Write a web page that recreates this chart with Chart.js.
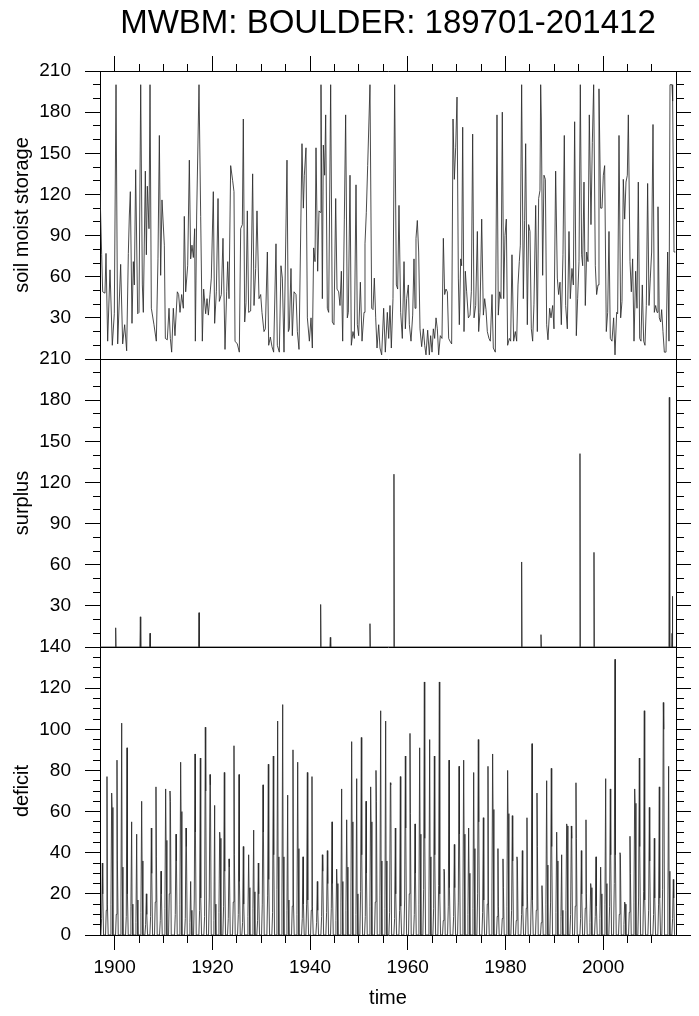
<!DOCTYPE html>
<html>
<head>
<meta charset="utf-8">
<script src="https://cdn.jsdelivr.net/npm/chart.js@4.4.1/dist/chart.umd.min.js"></script>
<style>
  html, body { margin: 0; padding: 0; background: #fff; }
  #wrap { position: relative; width: 699px; height: 1016px; }
  #wrap canvas { position: absolute; left: 0; top: 0; }
</style>
</head>
<body>
<div id="wrap">
  <canvas id="soil" width="699" height="1016"></canvas>
  <canvas id="surplus" width="699" height="1016"></canvas>
  <canvas id="deficit" width="699" height="1016"></canvas>
</div>
<script>
const titleText = "MWBM: BOULDER: 189701-201412";
const timeMin = 1897;
const timeMax = 2014.917;

const yearTicks = [1900, 1905, 1910, 1915, 1920, 1925, 1930, 1935, 1940, 1945, 1950, 1955,
  1960, 1965, 1970, 1975, 1980, 1985, 1990, 1995, 2000, 2005, 2010];
const yearLabels = [1900, 1920, 1940, 1960, 1980, 2000];
const storageTicks = [0, 10, 20, 30, 40, 50, 60, 70, 80, 90, 100, 110, 120, 130, 140, 150,
  160, 170, 180, 190, 200, 210];
const deficitTicks = [0, 5, 10, 15, 20, 25, 30, 35, 40, 45, 50, 55, 60, 65, 70, 75, 80, 85,
  90, 95, 100, 105, 110, 115, 120, 125, 130, 135, 140];

// soil moisture storage, peaks and troughs
const soilTime = [
  1897.00, 1897.34, 1897.55, 1898.02, 1898.23, 1898.57, 1899.05, 1899.52, 1899.93, 1900.28,
  1900.62, 1901.23, 1901.64, 1902.05, 1902.46, 1902.80, 1903.01, 1903.21, 1903.55, 1903.82,
  1904.03, 1904.30, 1904.71, 1904.98, 1905.33, 1905.67, 1905.87, 1906.28, 1906.49, 1906.69,
  1907.03, 1907.24, 1907.51, 1908.05, 1908.53, 1908.87, 1909.15, 1909.42, 1909.69, 1910.17,
  1910.38, 1910.78, 1911.13, 1911.40, 1911.67, 1912.01, 1912.35, 1912.83, 1913.10, 1913.38,
  1913.72, 1914.06, 1914.26, 1914.54, 1914.95, 1915.29, 1915.56, 1915.83, 1916.11, 1916.38,
  1916.52, 1916.79, 1917.27, 1917.61, 1917.95, 1918.22, 1918.63, 1918.91, 1919.18, 1919.52,
  1919.79, 1920.20, 1920.47, 1920.82, 1921.16, 1921.43, 1921.84, 1922.18, 1922.59, 1922.93,
  1923.14, 1923.41, 1923.75, 1924.16, 1924.43, 1924.64, 1925.11, 1925.52, 1925.80, 1926.14,
  1926.34, 1926.62, 1926.89, 1927.16, 1927.43, 1927.84, 1928.25, 1928.53, 1928.87, 1929.14,
  1929.55, 1929.89, 1930.16, 1930.57, 1930.85, 1931.26, 1931.53, 1931.87, 1932.21, 1932.55,
  1933.03, 1933.30, 1933.71, 1934.05, 1934.33, 1934.67,
  1935.28, 1935.56, 1935.76, 1936.10, 1936.37, 1936.72, 1937.13, 1937.40, 1937.74, 1938.35,
  1938.63, 1938.83, 1939.17, 1939.45, 1939.86, 1940.20, 1940.47, 1940.74, 1941.02, 1941.22,
  1941.56, 1941.83, 1942.04, 1942.24, 1942.52, 1942.72, 1942.99, 1943.20, 1943.54, 1943.81,
  1944.22, 1944.56, 1944.90, 1945.25, 1945.52, 1945.86, 1946.13, 1946.41, 1946.68, 1947.02,
  1947.29, 1947.63, 1947.84, 1948.18, 1948.45, 1948.79, 1949.07, 1949.41, 1949.68, 1949.95,
  1950.30, 1950.64, 1951.05, 1951.25, 1951.52, 1951.80, 1952.27, 1952.62, 1952.89, 1953.16,
  1953.44, 1953.71, 1954.05, 1954.32, 1954.66, 1955.07, 1955.41, 1955.82, 1956.10, 1956.37,
  1956.64, 1956.98, 1957.32, 1957.67, 1957.94, 1958.21, 1958.55, 1958.89, 1959.24, 1959.51,
  1959.78, 1960.12, 1960.33, 1960.67, 1961.01, 1961.28, 1961.49, 1961.69, 1961.96, 1962.24,
  1962.51, 1962.85, 1963.19, 1963.47, 1963.74, 1964.08, 1964.42, 1964.69, 1964.97, 1965.24,
  1965.51, 1965.79, 1966.06, 1966.33, 1966.67, 1967.01, 1967.29, 1967.56, 1967.83, 1968.11,
  1968.38, 1968.65, 1968.99, 1969.27, 1969.54, 1969.81, 1970.09, 1970.36, 1970.56, 1970.84,
  1971.04, 1971.25, 1971.52, 1971.79, 1972.06, 1972.41, 1972.75, 1973.02, 1973.29, 1973.57,
  1973.91, 1974.25, 1974.52, 1974.79, 1975.14, 1975.48, 1975.75,
  1976.02, 1976.29, 1976.63, 1976.91, 1977.25, 1977.52, 1977.93, 1978.27, 1978.54, 1978.82,
  1979.09, 1979.36, 1979.64, 1979.91, 1980.18, 1980.45, 1980.80, 1981.07, 1981.34, 1981.68,
  1982.02, 1982.30, 1982.57, 1982.84, 1983.05, 1983.32, 1983.66, 1983.93, 1984.14, 1984.48,
  1984.75, 1985.03, 1985.30, 1985.57, 1985.84, 1986.19, 1986.53, 1986.80, 1987.07, 1987.21,
  1987.35, 1987.62, 1987.89, 1988.17, 1988.44, 1988.71, 1989.05, 1989.33, 1989.67, 1989.94,
  1990.28, 1990.62, 1990.89, 1991.17, 1991.44, 1991.78, 1992.05, 1992.33, 1992.67, 1993.01,
  1993.28, 1993.62, 1993.90, 1994.17, 1994.51, 1994.78, 1995.06, 1995.33, 1995.60, 1995.81,
  1996.08, 1996.35, 1996.63, 1996.90, 1997.17, 1997.51, 1997.79, 1998.06, 1998.40, 1998.67,
  1998.95, 1999.15, 1999.49, 1999.77, 2000.04, 2000.31, 2000.65, 2000.93, 2001.20, 2001.47,
  2001.81, 2002.15, 2002.43, 2002.77, 2002.97, 2003.25, 2003.59, 2003.86, 2004.13, 2004.41,
  2004.68, 2004.95, 2005.16, 2005.50, 2005.77, 2006.04, 2006.32, 2006.66, 2006.93, 2007.20,
  2007.48, 2007.75, 2008.02, 2008.30, 2008.57, 2008.84, 2009.11, 2009.39, 2009.66, 2009.93,
  2010.21, 2010.48, 2010.75, 2011.03, 2011.23, 2011.50, 2011.78, 2011.98, 2012.25, 2012.53,
  2012.87, 2013.21, 2013.48, 2013.69, 2014.10, 2014.23, 2014.51, 2014.78
];
const soilValue = [
  123, 76, 49, 48, 77, 13, 65, 10, 33, 200,
  11, 69, 11, 25, 6, 77, 105, 122, 26, 71,
  54, 138, 33, 34, 200, 54, 34, 137, 76, 126,
  95, 200, 37, 25, 13, 73, 163, 61, 116, 83,
  15, 14, 37, 15, 5, 37, 17, 49, 47, 34,
  47, 37, 104, 49, 68, 145, 73, 83, 74, 95,
  13, 105, 200, 104, 13, 51, 33, 44, 32, 47,
  59, 122, 26, 49, 117, 42, 47, 88, 7, 49,
  71, 44, 141, 130, 122, 13, 11, 5, 95, 98,
  175, 27, 41, 108, 34, 35, 135, 39, 66, 108,
  44, 47, 34, 20, 22, 78, 10, 16, 9, 5,
  84, 10, 5, 68, 59, 5,
  145, 20, 22, 66, 17, 49, 47, 20, 7, 157,
  110, 134, 154, 30, 13, 30, 8, 81, 71, 154,
  64, 108, 107, 200, 44, 156, 134, 178, 37, 34,
  200, 27, 25, 117, 51, 49, 39, 64, 13, 102,
  178, 30, 34, 134, 10, 20, 15, 127, 25, 17,
  56, 13, 34, 84, 107, 141, 200, 37, 36, 59,
  30, 8, 25, 8, 3, 37, 5, 34, 15, 39,
  8, 44, 200, 54, 51, 112, 34, 15, 71, 22,
  44, 54, 25, 13, 32, 73, 37, 88, 101, 78,
  22, 9, 22, 10, 3, 21, 3, 17, 5, 22,
  15, 30, 22, 3, 17, 15, 88, 47, 51, 49,
  15, 13, 11, 175, 131, 154, 191, 59, 25, 73,
  68, 169, 20, 64, 49, 30, 32, 49, 164, 30,
  39, 93, 20, 34, 102, 32, 44,
  36, 20, 15, 13, 47, 8, 5, 178, 32, 49,
  44, 180, 44, 90, 102, 10, 15, 13, 76, 13,
  20, 13, 54, 71, 83, 200, 44, 101, 157, 25,
  98, 93, 22, 13, 40, 112, 20, 117, 123, 200,
  175, 61, 134, 131, 25, 14, 37, 30, 39, 22,
  137, 59, 47, 56, 25, 76, 163, 39, 22, 93,
  44, 66, 54, 173, 17, 44, 71, 200, 76, 68,
  129, 39, 78, 71, 178, 98, 158, 200, 68, 47,
  54, 197, 110, 110, 134, 141, 20, 34, 93, 15,
  13, 30, 3, 34, 33, 163, 30, 42, 131, 102,
  129, 134, 178, 71, 49, 73, 13, 64, 37, 129,
  15, 13, 54, 13, 10, 39, 128, 39, 59, 78,
  171, 34, 39, 34, 111, 30, 27, 36, 20, 5,
  5, 78, 13, 200, 200, 188, 78, 78
];

// surplus: zero almost everywhere, a few spikes
const surplusTime = [
  1897.00, 1900.13, 1900.21, 1900.29, 1905.18, 1905.26, 1905.34, 1907.16, 1907.24, 1907.32,
  1917.19, 1917.27, 1917.35, 1942.09, 1942.17, 1942.25, 1944.07, 1944.15, 1944.23, 1952.19,
  1952.27, 1952.35, 1957.10, 1957.18, 1957.26, 1983.24, 1983.32, 1983.40, 1987.20, 1987.28,
  1987.36, 1995.18, 1995.26, 1995.34, 1998.05, 1998.13, 1998.21, 2013.47, 2013.55, 2013.63,
  2014.02, 2014.10, 2014.17, 2014.25, 2014.917
];
const surplusValue = [
  0, 0, 14, 0, 0, 22, 0, 0, 10, 0,
  0, 25, 0, 0, 31, 0, 0, 7, 0, 0,
  17, 0, 0, 126, 0, 0, 62, 0, 0, 9,
  0, 0, 141, 0, 0, 69, 0, 0, 182, 0,
  0, 10, 37, 0, 0
];

// deficit: one summer spike per year (time of peak, peak, following month, spring value)
const deficitPeakTime = [
  1897.48, 1898.43, 1899.39, 1900.48, 1901.44, 1902.53, 1903.48, 1904.51, 1905.53, 1906.49,
  1907.51, 1908.46, 1909.49, 1910.44, 1911.33, 1912.56, 1913.51, 1914.61, 1915.56, 1916.45,
  1917.54, 1918.56, 1919.52, 1920.47, 1921.50, 1922.45, 1923.41, 1924.43, 1925.46, 1926.34,
  1927.43, 1928.46, 1929.41, 1930.37, 1931.46, 1932.48, 1933.37, 1934.40, 1935.42, 1936.51,
  1937.47, 1938.56, 1939.45, 1940.40, 1941.49, 1942.52, 1943.54, 1944.50, 1945.45, 1946.47,
  1947.50, 1948.52, 1949.55, 1950.50, 1951.46, 1952.41, 1953.50, 1954.46, 1955.48, 1956.44,
  1957.46, 1958.49, 1959.51, 1960.46, 1961.49, 1962.44, 1963.40, 1964.49, 1965.45, 1966.47,
  1967.42, 1968.45, 1969.54, 1970.50, 1971.45, 1972.47, 1973.50, 1974.45, 1975.48, 1976.43,
  1977.38, 1978.47, 1979.50, 1980.45, 1981.41, 1982.36, 1983.46, 1984.41, 1985.44, 1986.46,
  1987.48, 1988.44, 1989.39, 1990.49, 1991.51, 1992.53, 1993.49, 1994.44, 1995.54, 1996.49,
  1997.45, 1998.54, 1999.49, 2000.52, 2001.47, 2002.43, 2003.45, 2004.41, 2005.50, 2006.46,
  2007.41, 2008.43, 2009.46, 2010.48, 2011.50, 2012.32, 2013.41, 2014.37
];
const deficitPeak = [
  35, 77, 69, 85, 103, 91, 55, 49, 65, 20,
  52, 72, 31, 71, 70, 49, 84, 52, 26, 88,
  86, 101, 78, 63, 50, 79, 37, 92, 78, 43,
  39, 51, 35, 73, 83, 87, 104, 112, 68, 90,
  84, 38, 79, 77, 26, 39, 41, 55, 32, 71,
  56, 94, 76, 96, 65, 72, 80, 109, 104, 74,
  52, 77, 87, 98, 54, 91, 123, 95, 87, 123,
  32, 85, 44, 82, 85, 52, 79, 95, 57, 82,
  88, 42, 37, 80, 58, 38, 41, 57, 93, 69,
  24, 75, 81, 50, 39, 54, 53, 74, 41, 56,
  25, 38, 33, 76, 71, 134, 40, 16, 48, 71,
  86, 109, 62, 47, 72, 113, 82, 27
];
const deficitNext = [
  20, 15, 62, 36, 33, 20, 15, 17, 36, 10,
  30, 38, 20, 46, 65, 36, 60, 43, 12, 50,
  18, 70, 73, 15, 47, 31, 33, 39, 26, 15,
  23, 21, 20, 50, 27, 39, 38, 38, 17, 17,
  42, 15, 17, 14, 12, 31, 25, 25, 25, 26,
  33, 55, 20, 39, 30, 55, 65, 36, 36, 73,
  20, 14, 52, 59, 30, 49, 47, 38, 39, 20,
  31, 23, 23, 49, 49, 30, 42, 55, 17, 17,
  61, 14, 23, 59, 36, 36, 14, 20, 17, 43,
  17, 34, 43, 36, 12, 53, 47, 47, 20, 20,
  23, 14, 20, 25, 39, 39, 39, 15, 30, 64,
  43, 17, 36, 18, 18, 100, 31, 18
];
const deficitSpring = [
  8, 12, 15, 10, 18, 9, 14, 6, 11, 5,
  9, 16, 7, 13, 20, 10, 15, 8, 6, 17,
  12, 9, 18, 7, 11, 14, 8, 16, 10, 6,
  9, 13, 7, 15, 19, 11, 22, 17, 12, 14,
  10, 8, 15, 12, 6, 9, 11, 13, 7, 16,
  12, 18, 10, 21, 9, 14, 16, 19, 13, 11,
  8, 12, 17, 20, 10, 15, 22, 18, 13, 24,
  7, 14, 9, 16, 18, 10, 13, 20, 11, 15,
  17, 9, 8, 14, 12, 7, 10, 13, 19, 12,
  6, 15, 16, 11, 9, 12, 10, 14, 8, 13,
  6, 9, 8, 15, 14, 25, 10, 5, 11, 16,
  18, 21, 12, 10, 15, 22, 17, 8
];

Chart.defaults.font.family = "'Liberation Sans', Helvetica, Arial, sans-serif";
Chart.defaults.color = "#000";

const soilPoints = soilTime.map((t, i) => ({ x: t, y: soilValue[i] }));
const surplusPoints = surplusTime.map((t, i) => ({ x: t, y: surplusValue[i] }));
const deficitPoints = [];
deficitPeakTime.forEach((t, i) => {
  deficitPoints.push(
    { x: t - 0.3, y: 0 },
    { x: t - 0.15, y: deficitSpring[i] },
    { x: t, y: deficitPeak[i] },
    { x: t + 0.085, y: deficitNext[i] },
    { x: t + 0.25, y: 0 }
  );
});

const minorDash = [7, 8];

function setTicks(values) {
  return (scale) => { scale.ticks = values.map((v) => ({ value: v })); };
}

// outer end first (left, top) -> offset the dash so only the inner part shows
function tickGrid(isMajor, outerFirst) {
  return {
    drawOnChartArea: false,
    tickColor: "#000",
    tickWidth: 1,
    tickLength: 15,
    tickBorderDash: (ctx) => (isMajor(ctx.tick.value) ? [] : minorDash),
    tickBorderDashOffset: (ctx) => (isMajor(ctx.tick.value) || !outerFirst ? 0 : 7),
  };
}

function leftAxis(max, ticks, step, title, hideZero, topLine) {
  const isMajor = (v) => v % step === 0;
  const grid = tickGrid(isMajor, true);
  grid.drawOnChartArea = topLine;
  grid.color = (ctx) => (ctx.tick && ctx.tick.value === max ? "#000" : "rgba(0,0,0,0)");
  return {
    type: "linear",
    position: "left",
    min: 0,
    max: max,
    afterBuildTicks: setTicks(ticks),
    afterFit: (s) => { s.width = 100; },
    ticks: {
      autoSkip: false,
      padding: 14,
      font: { size: 19 },
      callback: (v) => (isMajor(v) && !(hideZero && v === 0) ? String(v) : ""),
    },
    grid: grid,
    border: { color: "#000", width: 1 },
    title: { display: true, text: title, font: { size: 20 }, padding: { top: 10, bottom: 0 } },
  };
}

function rightAxis(max, ticks, step) {
  return {
    type: "linear",
    position: "right",
    min: 0,
    max: max,
    afterBuildTicks: setTicks(ticks),
    afterFit: (s) => { s.width = 23; },
    ticks: { display: false, autoSkip: false },
    grid: tickGrid((v) => v % step === 0, false),
    border: { color: "#000", width: 1 },
  };
}

const isMajorYear = (v) => yearLabels.includes(v);

function lineDataset(points) {
  return {
    data: points,
    borderColor: "#2a2a2a",
    borderWidth: 0.85,
    pointRadius: 0,
    fill: false,
    tension: 0,
    yAxisID: "y",
  };
}

const baseOptions = {
  responsive: false,
  animation: false,
  devicePixelRatio: 1,
  events: [],
  parsing: false,
};

new Chart(document.getElementById("soil"), {
  type: "line",
  data: { datasets: [lineDataset(soilPoints)] },
  options: {
    ...baseOptions,
    layout: { padding: { top: 0, left: 0, right: 0, bottom: 657 } },
    plugins: {
      legend: { display: false },
      tooltip: { enabled: false },
      title: {
        display: true,
        text: titleText,
        fullSize: false,
        color: "#000",
        font: { size: 33, weight: "normal", lineHeight: 1 },
        padding: { top: 7, bottom: 16 },
      },
    },
    scales: {
      x: {
        type: "linear",
        position: "top",
        min: timeMin,
        max: timeMax,
        afterBuildTicks: setTicks(yearTicks),
        afterFit: (s) => { s.height = 15; },
        ticks: { display: false, autoSkip: false },
        grid: tickGrid(isMajorYear, true),
        border: { color: "#000", width: 1 },
      },
      y: leftAxis(210, storageTicks, 30, "soil moist storage", true, false),
      y2: rightAxis(210, storageTicks, 30),
    },
  },
});

new Chart(document.getElementById("surplus"), {
  type: "line",
  data: { datasets: [lineDataset(surplusPoints)] },
  options: {
    ...baseOptions,
    layout: { padding: { top: 359, left: 0, right: 0, bottom: 369 } },
    plugins: { legend: { display: false }, tooltip: { enabled: false } },
    scales: {
      x: { type: "linear", display: false, min: timeMin, max: timeMax },
      y: leftAxis(210, storageTicks, 30, "surplus", true, true),
      y2: rightAxis(210, storageTicks, 30),
    },
  },
});

new Chart(document.getElementById("deficit"), {
  type: "line",
  data: { datasets: [lineDataset(deficitPoints)] },
  options: {
    ...baseOptions,
    layout: { padding: { top: 647, left: 0, right: 0, bottom: 0 } },
    plugins: { legend: { display: false }, tooltip: { enabled: false } },
    scales: {
      x: {
        type: "linear",
        position: "bottom",
        min: timeMin,
        max: timeMax,
        afterBuildTicks: setTicks(yearTicks),
        afterFit: (s) => { s.height = 81; },
        ticks: {
          autoSkip: false,
          maxRotation: 0,
          padding: 6,
          font: { size: 19 },
          callback: (v) => (isMajorYear(v) ? String(v) : ""),
        },
        grid: tickGrid(isMajorYear, false),
        border: { color: "#000", width: 1 },
        title: { display: true, text: "time", font: { size: 20 }, padding: { top: 0, bottom: 6 } },
      },
      y: leftAxis(140, deficitTicks, 20, "deficit", false, true),
      y2: rightAxis(140, deficitTicks, 20),
    },
  },
});
</script>
</body>
</html>
